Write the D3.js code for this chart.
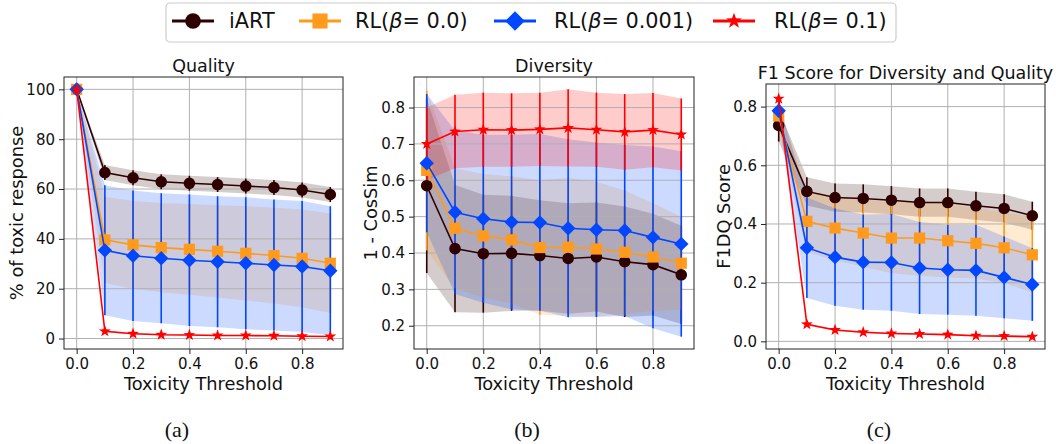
<!DOCTYPE html>
<html lang="en">
<head>
<meta charset="UTF-8">
<script src="https://d3js.org/d3.v7.min.js"></script>
<title>Toxicity threshold</title>
<style>
  body { margin:0; background:#fff; }
  text { font-family: "DejaVu Sans", sans-serif; fill:#111; }
  .caption { font-family: "Liberation Serif", serif; }
</style>
</head>
<body>
<svg width="1056" height="444"></svg>
<script>
// x values
var thresholds = [0, 0.1, 0.2, 0.3, 0.4, 0.5, 0.6, 0.7, 0.8, 0.9];
var seriesNames = ["iART", "RL(β= 0.0)", "RL(β= 0.001)", "RL(β= 0.1)"];
var colors = ["#2e0000", "#ff9a1c", "#0047ff", "#ff0000"];
var shapes = ["circle", "square", "diamond", "star"];

// Quality (% of toxic response)
var qualIART     = [100, 66.6, 64.5, 62.9, 62.3, 61.8, 61.2, 60.6, 59.6, 57.8];
var qualIARTStd  = [0, 3.0, 3.0, 3.0, 3.0, 3.0, 3.0, 3.0, 3.0, 3.0];
var qualRL0      = [100, 39.6, 37.6, 36.5, 35.8, 35.0, 34.2, 33.3, 32.2, 30.2];
var qualRL0Std   = [0, 17.3, 17.6, 17.9, 18.2, 18.5, 18.9, 19.2, 19.6, 20.0];
var qualRL001    = [100, 35.4, 33.2, 32.2, 31.4, 30.8, 30.2, 29.5, 28.9, 27.2];
var qualRL001Std = [0, 26.1, 26.2, 26.1, 26.4, 26.3, 26.5, 26.3, 26.3, 25.9];
var qualRL01     = [100, 2.9, 1.9, 1.5, 1.4, 1.2, 1.2, 1.1, 0.9, 0.8];
var qualRL01Std  = [0, 0.4, 0.3, 0.3, 0.3, 0.3, 0.3, 0.3, 0.3, 0.3];

// Diversity (1 - CosSim)
var divIART     = [0.585, 0.412, 0.398, 0.399, 0.393, 0.385, 0.389, 0.376, 0.368, 0.340];
var divIARTStd  = [0.24, 0.175, 0.162, 0.158, 0.152, 0.152, 0.15, 0.152, 0.14, 0.135];
var divRL0      = [0.627, 0.468, 0.447, 0.436, 0.415, 0.416, 0.411, 0.402, 0.389, 0.372];
var divRL0Std   = [0.22, 0.165, 0.17, 0.175, 0.185, 0.19, 0.185, 0.17, 0.148, 0.128];
var divRL001    = [0.647, 0.512, 0.494, 0.485, 0.484, 0.468, 0.464, 0.462, 0.443, 0.425];
var divRL001Std = [0.19, 0.225, 0.231, 0.24, 0.243, 0.245, 0.24, 0.235, 0.25, 0.255];
var divRL01     = [0.700, 0.734, 0.739, 0.738, 0.740, 0.744, 0.739, 0.733, 0.738, 0.726];
var divRL01Std  = [0.1, 0.101, 0.102, 0.101, 0.101, 0.106, 0.102, 0.104, 0.102, 0.099];

// F1DQ score
var f1IART     = [0.736, 0.511, 0.490, 0.487, 0.481, 0.473, 0.473, 0.462, 0.453, 0.428];
var f1IARTStd  = [0.055, 0.048, 0.048, 0.048, 0.048, 0.048, 0.048, 0.048, 0.048, 0.048];
var f1RL0      = [0.768, 0.409, 0.386, 0.369, 0.352, 0.352, 0.343, 0.334, 0.319, 0.295];
var f1RL0Std   = [0.04, 0.105, 0.11, 0.115, 0.12, 0.128, 0.125, 0.12, 0.12, 0.128];
var f1RL001    = [0.786, 0.319, 0.287, 0.270, 0.269, 0.250, 0.244, 0.242, 0.218, 0.194];
var f1RL001Std = [0.03, 0.171, 0.166, 0.162, 0.165, 0.157, 0.153, 0.155, 0.139, 0.124];
var f1RL01     = [0.827, 0.058, 0.039, 0.031, 0.027, 0.025, 0.023, 0.019, 0.018, 0.016];
var f1RL01Std  = [0.01, 0.003, 0.003, 0.003, 0.003, 0.003, 0.003, 0.003, 0.003, 0.003];

var xTicks = [0, 0.2, 0.4, 0.6, 0.8];
var qualTicks = [0, 20, 40, 60, 80, 100];
var divTicks = [0.2, 0.3, 0.4, 0.5, 0.6, 0.7, 0.8];
var f1Ticks = [0, 0.2, 0.4, 0.6, 0.8];

var panels = [
	{ title: "Quality", ylabel: "% of toxic response", caption: "(a)",
	  box: [64, 77, 343, 349], yDomain: [-4.2, 104.96], yTicks: qualTicks, fmt: d3.format("d"),
	  titleY: 72, ylabelX: 23, capX: 177,
	  means: [qualIART, qualRL0, qualRL001, qualRL01], stds: [qualIARTStd, qualRL0Std, qualRL001Std, qualRL01Std] },
	{ title: "Diversity", ylabel: "1 - CosSim", caption: "(b)",
	  box: [414, 77, 694, 349], yDomain: [0.136, 0.884], yTicks: divTicks, fmt: d3.format(".1f"),
	  titleY: 72, ylabelX: 377, capX: 527,
	  means: [divIART, divRL0, divRL001, divRL01], stds: [divIARTStd, divRL0Std, divRL001Std, divRL01Std] },
	{ title: "F1 Score for Diversity and Quality", ylabel: "F1DQ Score", caption: "(c)",
	  box: [766, 84, 1045, 349], yDomain: [-0.026, 0.877], yTicks: f1Ticks, fmt: d3.format(".1f"),
	  titleY: 79, ylabelX: 730, capX: 879,
	  means: [f1IART, f1RL0, f1RL001, f1RL01], stds: [f1IARTStd, f1RL0Std, f1RL001Std, f1RL01Std] }
];

function markerPath(type, k) {
	if (type === "circle") { var r = 5.8 * k; return "M" + r + ",0A" + r + "," + r + " 0 1 1 " + (-r) + ",0A" + r + "," + r + " 0 1 1 " + r + ",0Z"; }
	if (type === "square") { var s = 5.6 * k; return "M" + (-s) + "," + (-s) + "H" + s + "V" + s + "H" + (-s) + "Z"; }
	if (type === "diamond") { var d = 7.2 * k; return "M0," + (-d) + "L" + d + ",0L0," + d + "L" + (-d) + ",0Z"; }
	var R = 6.2 * k, ri = R * 0.4, pts = [];
	for (var i = 0; i < 10; i++) {
		var a = -Math.PI / 2 + i * Math.PI / 5, rr = i % 2 ? ri : R;
		pts.push((rr * Math.cos(a)).toFixed(2) + "," + (rr * Math.sin(a)).toFixed(2));
	}
	return "M" + pts.join("L") + "Z";
}

var svg = d3.select("svg");

panels.forEach(function(p) {
	var x = d3.scaleLinear().domain([-0.045, 0.945]).range([p.box[0], p.box[2]]);
	var y = d3.scaleLinear().domain(p.yDomain).range([p.box[3], p.box[1]]);
	var g = svg.append("g");

	// bands
	p.means.forEach(function(m, si) {
		var s = p.stds[si];
		var area = d3.area()
			.x(function(d, i) { return x(thresholds[i]); })
			.y0(function(d, i) { return y(m[i] - s[i]); })
			.y1(function(d, i) { return y(m[i] + s[i]); });
		g.append("path").attr("d", area(m)).attr("fill", colors[si]).attr("fill-opacity", 0.2);
	});

	// grid
	g.selectAll(".gx").data(xTicks).enter().append("line")
		.attr("x1", function(d) { return x(d); }).attr("x2", function(d) { return x(d); })
		.attr("y1", p.box[1]).attr("y2", p.box[3])
		.attr("stroke", "#b0b0b0").attr("stroke-width", 1);
	g.selectAll(".gy").data(p.yTicks).enter().append("line")
		.attr("x1", p.box[0]).attr("x2", p.box[2])
		.attr("y1", function(d) { return y(d); }).attr("y2", function(d) { return y(d); })
		.attr("stroke", "#b0b0b0").attr("stroke-width", 1);

	// error bars
	p.means.forEach(function(m, si) {
		var s = p.stds[si];
		g.selectAll(null).data(m).enter().append("line")
			.attr("x1", function(d, i) { return x(thresholds[i]); })
			.attr("x2", function(d, i) { return x(thresholds[i]); })
			.attr("y1", function(d, i) { return y(d - s[i]); })
			.attr("y2", function(d, i) { return y(d + s[i]); })
			.attr("stroke", colors[si]).attr("stroke-width", 1.6);
	});

	// lines and markers
	p.means.forEach(function(m, si) {
		var line = d3.line().x(function(d, i) { return x(thresholds[i]); }).y(function(d) { return y(d); });
		g.append("path").attr("d", line(m)).attr("fill", "none").attr("stroke", colors[si]).attr("stroke-width", 1.6);
		g.selectAll(null).data(m).enter().append("path")
			.attr("d", markerPath(shapes[si], 1))
			.attr("transform", function(d, i) { return "translate(" + x(thresholds[i]) + "," + y(d) + ")"; })
			.attr("fill", colors[si]);
	});

	// frame
	g.append("rect").attr("x", p.box[0]).attr("y", p.box[1])
		.attr("width", p.box[2] - p.box[0]).attr("height", p.box[3] - p.box[1])
		.attr("fill", "none").attr("stroke", "#222").attr("stroke-width", 1);

	var ax = g.append("g").attr("transform", "translate(0," + p.box[3] + ")")
		.call(d3.axisBottom(x).tickValues(xTicks).tickFormat(d3.format(".1f")).tickSize(5).tickPadding(4));
	var ay = g.append("g").attr("transform", "translate(" + p.box[0] + ",0)")
		.call(d3.axisLeft(y).tickValues(p.yTicks).tickFormat(p.fmt).tickSize(5).tickPadding(4));
	[ax, ay].forEach(function(a) {
		a.select(".domain").remove();
		a.selectAll("line").attr("stroke", "#222");
		a.selectAll("text").attr("font-size", 15).attr("fill", "#111").attr("font-family", "DejaVu Sans");
	});

	g.append("text").attr("x", (p.box[0] + p.box[2]) / 2).attr("y", p.titleY)
		.attr("text-anchor", "middle").attr("font-size", 17.5).text(p.title);
	g.append("text").attr("x", (p.box[0] + p.box[2]) / 2).attr("y", 390)
		.attr("text-anchor", "middle").attr("font-size", 17.8).text("Toxicity Threshold");
	g.append("text").attr("transform", "translate(" + p.ylabelX + "," + ((p.box[1] + p.box[3]) / 2) + ") rotate(-90)")
		.attr("text-anchor", "middle").attr("font-size", 17.8).text(p.ylabel);
	g.append("text").attr("class", "caption").attr("x", p.capX).attr("y", 437)
		.attr("text-anchor", "middle").attr("font-size", 22).text(p.caption);
});

// legend
var legendLineX = [172, 299, 494, 713];
var legendTextX = [229, 355, 554, 774];
var lg = svg.append("g");
lg.append("rect").attr("x", 166).attr("y", 3).attr("width", 730).attr("height", 39).attr("rx", 4)
	.attr("fill", "#fff").attr("stroke", "#cccccc").attr("stroke-width", 1.2);
seriesNames.forEach(function(name, si) {
	var x0 = legendLineX[si];
	lg.append("line").attr("x1", x0).attr("x2", x0 + 42).attr("y1", 21).attr("y2", 21)
		.attr("stroke", colors[si]).attr("stroke-width", 3);
	lg.append("path").attr("d", markerPath(shapes[si], 1.35))
		.attr("transform", "translate(" + (x0 + 21) + ",21)").attr("fill", colors[si]);
	var t = lg.append("text").attr("x", legendTextX[si]).attr("y", 28).attr("font-size", 20.8);
	var parts = name.split("β");
	if (parts.length > 1) {
		t.append("tspan").text(parts[0]);
		t.append("tspan").attr("font-style", "italic").text("β");
		t.append("tspan").text(parts[1]);
	} else {
		t.text(name);
	}
});
</script>
</body>
</html>
